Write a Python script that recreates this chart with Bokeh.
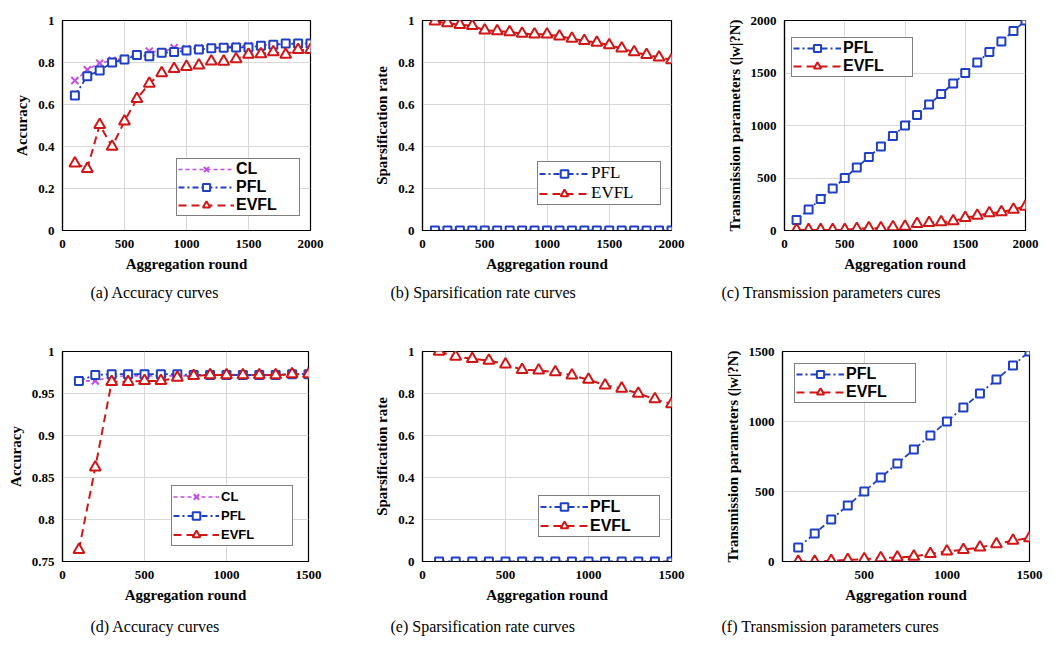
from bokeh.plotting import figure
from bokeh.layouts import column, row
from bokeh.models import (FixedTicker, CustomJSTickFormatter, Legend, LegendItem,
                          Title, Range1d)
from bokeh.embed import file_html
from bokeh.resources import INLINE

# ---------------- data ----------------
rounds_2000 = [100, 200, 300, 400, 500, 600, 700, 800, 900, 1000,
               1100, 1200, 1300, 1400, 1500, 1600, 1700, 1800, 1900, 2000]
rounds_1500 = [100, 200, 300, 400, 500, 600, 700, 800, 900, 1000,
               1100, 1200, 1300, 1400, 1500]

acc_cl_a = [0.714, 0.765, 0.797, 0.810, 0.820, 0.840, 0.854, 0.850, 0.870, 0.865,
            0.868, 0.872, 0.875, 0.878, 0.880, 0.882, 0.886, 0.888, 0.890, 0.892]
acc_pfl_a = [0.643, 0.735, 0.762, 0.800, 0.814, 0.836, 0.830, 0.846, 0.850, 0.857,
             0.862, 0.868, 0.870, 0.872, 0.872, 0.880, 0.884, 0.890, 0.890, 0.890]
acc_evfl_a = [0.320, 0.294, 0.503, 0.400, 0.520, 0.627, 0.700, 0.750, 0.770, 0.780,
              0.786, 0.806, 0.805, 0.816, 0.838, 0.840, 0.850, 0.838, 0.860, 0.860]

sp_pfl_b = [0, 0, 0, 0, 0, 0, 0, 0, 0, 0, 0, 0, 0, 0, 0, 0, 0, 0, 0, 0]
sp_evfl_b = [0.996, 0.988, 0.980, 0.975, 0.953, 0.950, 0.945, 0.938, 0.934, 0.934,
             0.925, 0.914, 0.903, 0.895, 0.883, 0.867, 0.850, 0.836, 0.825, 0.812]

tp_pfl_c = [100, 200, 300, 400, 500, 600, 700, 800, 900, 1000,
            1100, 1200, 1300, 1400, 1500, 1600, 1700, 1800, 1900, 2000]
tp_evfl_c = [5, 5, 5, 5, 6, 16, 22, 22, 32, 38,
             64, 73, 80, 89, 121, 143, 165, 175, 200, 229]

acc_cl_d = [0.965, 0.965, 0.970, 0.971, 0.971, 0.971, 0.971, 0.971, 0.972, 0.972,
            0.972, 0.972, 0.972, 0.973, 0.973]
acc_pfl_d = [0.965, 0.972, 0.973, 0.973, 0.973, 0.973, 0.973, 0.972, 0.972, 0.972,
             0.972, 0.972, 0.972, 0.973, 0.973]
acc_evfl_d = [0.764, 0.862, 0.964, 0.964, 0.965, 0.965, 0.969, 0.971, 0.972, 0.972,
              0.972, 0.972, 0.972, 0.973, 0.973]

sp_pfl_e = [0, 0, 0, 0, 0, 0, 0, 0, 0, 0, 0, 0, 0, 0, 0]
sp_evfl_e = [1.000, 0.976, 0.965, 0.957, 0.939, 0.913, 0.910, 0.902, 0.887, 0.866,
             0.839, 0.824, 0.800, 0.773, 0.750]

tp_pfl_f = [100, 200, 300, 400, 500, 600, 700, 800, 900, 1000,
            1100, 1200, 1300, 1400, 1500]
tp_evfl_f = [0, 0, 5, 12, 17, 24, 29, 36, 55, 72, 84, 101, 125, 149, 168]

ticks_x2000 = [0, 500, 1000, 1500, 2000]
ticks_x1500 = [0, 500, 1000, 1500]
ticks_x1500f = [500, 1000, 1500]
ticks_unit = [0, 0.2, 0.4, 0.6, 0.8, 1]
ticks_acc_d = [0.75, 0.8, 0.85, 0.9, 0.95, 1]
ticks_tp_c = [0, 500, 1000, 1500, 2000]
ticks_tp_f = [0, 500, 1000, 1500]

captions = ["(a)  Accuracy curves", "(b)  Sparsification rate curves",
            "(c)  Transmission parameters cures", "(d)  Accuracy curves",
            "(e)  Sparsification rate curves", "(f)  Transmission parameters cures"]

# ---------------- styles ----------------
C_CL = "#c24ee0"
C_PFL = "#1f3fc4"
C_EVFL = "#d01616"
SERIF = "Liberation Serif"
SANS = "Liberation Sans"

STYLE = {
    "CL": dict(color=C_CL, dash="4 3", lw=1.6, marker="x", size=10),
    "PFL": dict(color=C_PFL, dash="6 3 2 3", lw=1.8, marker="square", size=8),
    "EVFL": dict(color=C_EVFL, dash="8 5", lw=2.0, marker="triangle", size=11),
}

fmt = CustomJSTickFormatter(code="return String(Number(tick.toFixed(2)));")


def panel(xr, yr, xticks, yticks, ylabel, series, borders, legend_cfg, caption,
          cap_offset, cap_standoff):
    L, R, T, B = borders
    p = figure(width=354, height=323, x_range=Range1d(*xr), y_range=Range1d(*yr),
               output_backend="svg", toolbar_location=None,
               min_border_left=L, min_border_right=R, min_border_top=T,
               min_border_bottom=B)
    p.background_fill_color = "white"
    p.outline_line_color = "black"
    p.outline_line_width = 1.2
    p.xaxis.ticker = FixedTicker(ticks=xticks)
    p.yaxis.ticker = FixedTicker(ticks=yticks)
    p.xaxis.formatter = fmt
    p.yaxis.formatter = fmt
    for ax in (p.xaxis, p.yaxis):
        ax.major_label_text_font = SERIF
        ax.major_label_text_font_style = "bold"
        ax.major_label_text_font_size = "13px"
        ax.major_label_text_color = "black"
        ax.axis_label_text_font = SERIF
        ax.axis_label_text_font_style = "bold"
        ax.axis_label_text_font_size = "15px"
        ax.axis_label_text_color = "black"
        ax.major_tick_out = 0
        ax.major_tick_in = 0
        ax.minor_tick_out = 0
        ax.minor_tick_in = 0
        ax.axis_line_color = "black"
        ax.axis_line_width = 1.2
        ax.axis_label_standoff = 5
    p.xaxis.major_label_standoff = 9
    p.yaxis.major_label_standoff = 8
    p.xaxis.axis_label = "Aggregation round"
    p.yaxis.axis_label = ylabel
    p.grid.grid_line_color = "#d8d8d8"
    p.grid.grid_line_width = 1

    items = []
    for name, xs, ys in series:
        st = STYLE[name]
        lr = p.line(xs, ys, line_color=st["color"], line_dash=st["dash"],
                    line_width=st["lw"])
        sr = p.scatter(xs, ys, marker=st["marker"], size=st["size"],
                       line_color=st["color"], fill_color="white",
                       line_width=2)
        items.append(LegendItem(label=name, renderers=[lr, sr]))

    font, fstyle, fsize, loc, gw, lh, lw = legend_cfg
    leg = Legend(items=items, location=loc, margin=0, padding=1, spacing=0,
                 label_text_font=font, label_text_font_style=fstyle,
                 label_text_font_size=fsize, label_text_color="black",
                 glyph_width=gw, glyph_height=lh, label_height=lh,
                 label_width=lw, label_standoff=2,
                 border_line_color="black", border_line_width=1.2,
                 background_fill_color="white", background_fill_alpha=1.0)
    p.add_layout(leg)

    t = Title(text=caption, align="left", offset=cap_offset, text_font=SERIF,
              text_font_style="normal", text_font_size="16px",
              text_color="black", standoff=cap_standoff)
    p.add_layout(t, "below")
    return p


pa = panel((0, 2000), (0, 1), ticks_x2000, ticks_unit, "Accuracy",
           [("CL", rounds_2000, acc_cl_a), ("PFL", rounds_2000, acc_pfl_a),
            ("EVFL", rounds_2000, acc_evfl_a)],
           (62, 44, 20, 93),
           (SANS, "bold", "16px", (114, 14), 56, 18, 62), captions[0], 28, 14)

pb = panel((0, 2000), (0, 1), ticks_x2000, ticks_unit, "Sparsification rate",
           [("PFL", rounds_2000, sp_pfl_b), ("EVFL", rounds_2000, sp_evfl_b)],
           (68, 37, 20, 93),
           (SERIF, "normal", "17px", (115, 25), 50, 19, 68), captions[1], -32, 14)

pc = panel((0, 2000), (0, 2000), ticks_x2000, ticks_tp_c,
           "Transmission parameters (|w|?N)",
           [("PFL", rounds_2000, tp_pfl_c), ("EVFL", rounds_2000, tp_evfl_c)],
           (76, 37, 19, 93),
           (SANS, "bold", "16px", (7, 153), 48, 18, 68), captions[2], -63, 14)

pd_ = panel((0, 1500), (0.75, 1), ticks_x1500, ticks_acc_d, "Accuracy",
            [("CL", rounds_1500, acc_cl_d), ("PFL", rounds_1500, acc_pfl_d),
             ("EVFL", rounds_1500, acc_evfl_d)],
            (62, 46, 28, 85),
            (SANS, "bold", "13px", (109, 15), 46, 19, 70), captions[3], 28, 20)

pe = panel((0, 1500), (0, 1), ticks_x1500, ticks_unit, "Sparsification rate",
           [("PFL", rounds_1500, sp_pfl_e), ("EVFL", rounds_1500, sp_evfl_e)],
           (68, 37, 28, 85),
           (SANS, "bold", "16px", (116, 24), 48, 19, 68), captions[4], -32, 20)

pf = panel((5, 1500), (0, 1500), ticks_x1500f, ticks_tp_f,
           "Transmission parameters (|w|?N)",
           [("PFL", rounds_1500, tp_pfl_f), ("EVFL", rounds_1500, tp_evfl_f)],
           (74, 33, 26, 84),
           (SANS, "bold", "16px", (12, 158), 48, 18, 68), captions[5], -61, 20)

layout = column(row(pa, pb, pc, spacing=0), row(pd_, pe, pf, spacing=0), spacing=0)

open("out.html", "w").write(file_html(layout, INLINE))
